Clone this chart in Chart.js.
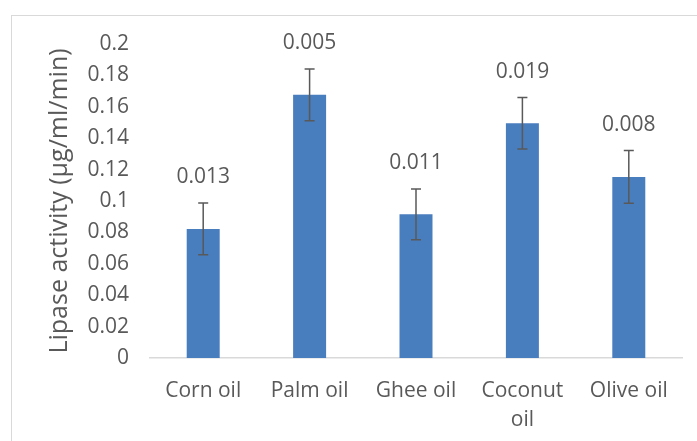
<!DOCTYPE html>
<html>
<head>
<meta charset="utf-8">
<script src="https://cdn.jsdelivr.net/npm/chart.js@4/dist/chart.umd.min.js"></script>
<style>
    html, body { margin: 0; padding: 0; background: #fff; overflow: hidden; }
    #wrap { position: relative; width: 697px; height: 441px; }
    #frame { position: absolute; left: 11px; top: 15px; width: 700px; height: 500px; border: 1.5px solid #d9d9d9; box-sizing: border-box; }
    canvas { position: absolute; left: 0; top: 0; }
</style>
</head>
<body>
<div id="wrap">
    <div id="frame"></div>
    <canvas id="chart" width="697" height="441"></canvas>
</div>
<script>
const oils = ["Corn oil", "Palm oil", "Ghee oil", ["Coconut", "oil"], "Olive oil"];
const activity = [0.0822, 0.1676, 0.0915, 0.1495, 0.1153];
const errors = [0.0165, 0.0165, 0.0162, 0.0164, 0.0168];
const barLabels = ["0.013", "0.005", "0.011", "0.019", "0.008"];
const yTicks = [0, 0.02, 0.04, 0.06, 0.08, 0.1, 0.12, 0.14, 0.16, 0.18, 0.2];

const textColor = "#595959";
const fontFamily = "'Open Sans', sans-serif";

// error bars and the labels above them
const errorBarPlugin = {
    id: "errorBars",
    afterDatasetsDraw(chart) {
        const ctx = chart.ctx;
        const meta = chart.getDatasetMeta(0);
        const y = chart.scales.y;
        ctx.save();
        meta.data.forEach((bar, i) => {
            const top = y.getPixelForValue(activity[i] + errors[i]);
            const bottom = y.getPixelForValue(activity[i] - errors[i]);
            ctx.strokeStyle = "#595959";
            ctx.lineWidth = 1.5;
            ctx.beginPath();
            ctx.moveTo(bar.x, top);
            ctx.lineTo(bar.x, bottom);
            ctx.moveTo(bar.x - 5, top);
            ctx.lineTo(bar.x + 5, top);
            ctx.moveTo(bar.x - 5, bottom);
            ctx.lineTo(bar.x + 5, bottom);
            ctx.stroke();

            ctx.fillStyle = textColor;
            ctx.font = "21px " + fontFamily;
            ctx.textAlign = "center";
            ctx.textBaseline = "middle";
            ctx.fillText(barLabels[i], bar.x, top - 26);
        });
        ctx.restore();
    }
};

new Chart(document.getElementById("chart"), {
    type: "bar",
    data: {
        labels: oils,
        datasets: [{
            data: activity,
            backgroundColor: "#487dbe",
            categoryPercentage: 1,
            barPercentage: 0.31
        }]
    },
    options: {
        responsive: false,
        animation: false,
        events: [],
        layout: { padding: { top: 44, right: 15, left: 0, bottom: 0 } },
        plugins: {
            legend: { display: false },
            tooltip: { enabled: false }
        },
        scales: {
            x: {
                grid: { display: false, drawTicks: false },
                border: { color: "#d9d9d9", width: 1.5 },
                ticks: {
                    color: textColor,
                    font: { family: fontFamily, size: 21, lineHeight: 1.4 },
                    padding: 18,
                    maxRotation: 0,
                    autoSkip: false
                },
                afterFit(scale) { scale.height = 83; }
            },
            y: {
                min: 0,
                max: 0.2,
                afterBuildTicks(scale) {
                    scale.ticks = yTicks.map(v => ({ value: v }));
                },
                grid: { display: false, drawTicks: false },
                border: { display: false },
                ticks: {
                    color: textColor,
                    font: { family: fontFamily, size: 21 },
                    padding: 21,
                    callback: v => String(Math.round(v * 100) / 100)
                },
                title: {
                    display: true,
                    text: "Lipase activity (µg/ml/min)",
                    color: textColor,
                    font: { family: fontFamily, size: 25 },
                    padding: { top: 45, bottom: 0 }
                },
                afterFit(scale) { scale.width = 150; }
            }
        }
    },
    plugins: [errorBarPlugin]
});
</script>
</body>
</html>
